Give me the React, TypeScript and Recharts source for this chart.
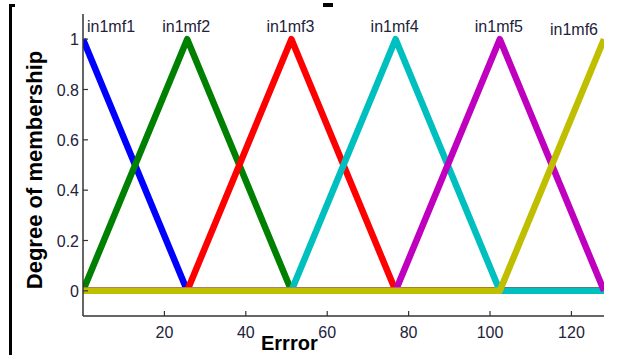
import { LineChart, Line, XAxis, YAxis, ReferenceDot } from "recharts";

// trimf breakpoints over the universe of discourse [0, 128]
const errorPoints = [0, 25.6, 51.2, 76.8, 102.4, 128];

const mfNames = ["in1mf1", "in1mf2", "in1mf3", "in1mf4", "in1mf5", "in1mf6"];

// membership degree of each mf at every breakpoint
const mf1 = [1, 0, 0, 0, 0, 0];
const mf2 = [0, 1, 0, 0, 0, 0];
const mf3 = [0, 0, 1, 0, 0, 0];
const mf4 = [0, 0, 0, 1, 0, 0];
const mf5 = [0, 0, 0, 0, 1, 0];
const mf6 = [0, 0, 0, 0, 0, 1];
const mfSeries = [mf1, mf2, mf3, mf4, mf5, mf6];

const mfPeaks = [0, 25.6, 51.2, 76.8, 102.4, 128];

const mfColors = ["#0000ff", "#008000", "#ff0000", "#00bfbf", "#bf00bf", "#bfbf00"];

const xTicks = [20, 40, 60, 80, 100, 120];
const yTicks = [0, 0.2, 0.4, 0.6, 0.8, 1];

const rows = errorPoints.map((x, i) => {
  const row: Record<string, number> = { x };
  mfSeries.forEach((s, k) => (row[mfNames[k]] = s[i]));
  return row;
});

const FONT = "'Liberation Sans', Arial, sans-serif";
const TEXT = "#22223a";
const AXIS = "#333";

const BottomTick = (props: any) => {
  const { x, y, payload } = props;
  return (
    <g>
      <line x1={x} y1={y} x2={x} y2={y - 5} stroke={AXIS} strokeWidth={1.2} />
      <text x={x} y={y + 22} textAnchor="middle" fontSize={16} fontFamily={FONT} fill={TEXT}>
        {payload.value}
      </text>
    </g>
  );
};

const LeftTick = (props: any) => {
  const { x, y, payload } = props;
  const v = payload.value;
  const label = v === 0 || v === 1 ? String(v) : v.toFixed(1);
  return (
    <g>
      <line x1={x} y1={y} x2={x + 5} y2={y} stroke={AXIS} strokeWidth={1.2} />
      <text x={x - 4} y={y + 6} textAnchor="end" fontSize={16} fontFamily={FONT} fill={TEXT}>
        {label}
      </text>
    </g>
  );
};

const EmptyTick = () => <g />;

const mfLabel = (i: number) => (p: any) => {
  const { x, y } = p.viewBox;
  const last = i === mfNames.length - 1;
  const anchor = i === 0 ? "start" : last ? "end" : "middle";
  const dx = i === 0 ? 4 : last ? -6 : -1;
  return (
    <text
      x={x + dx}
      y={y - (last ? 4 : 7)}
      textAnchor={anchor}
      fontSize={16}
      fontFamily={FONT}
      fill={TEXT}
    >
      {mfNames[i]}
    </text>
  );
};

export default function App() {
  return (
    <div style={{ position: "absolute", left: 0, top: 0, width: 630, height: 355, background: "#fff" }}>
      {/* figure frame edge and stray mark */}
      <div style={{ position: "absolute", left: 9, top: 4, width: 3, height: 351, background: "#000" }} />
      <div style={{ position: "absolute", left: 9, top: 4, width: 6, height: 3, background: "#000" }} />
      <div style={{ position: "absolute", left: 323, top: 3, width: 10, height: 4, background: "#000" }} />

      <LineChart
        width={630}
        height={355}
        data={rows}
        margin={{ top: 14, right: 26, bottom: 0, left: 0 }}
        style={{ position: "absolute", left: 0, top: 0 }}
      >
        <XAxis
          dataKey="x"
          type="number"
          domain={[0, 128]}
          ticks={xTicks}
          height={39}
          tickSize={0}
          tickMargin={0}
          tickLine={false}
          tick={<BottomTick />}
          axisLine={{ stroke: AXIS, strokeWidth: 1.5 }}
          allowDataOverflow
        />
        <XAxis
          xAxisId="top"
          dataKey="x"
          type="number"
          orientation="top"
          domain={[0, 128]}
          ticks={xTicks}
          height={0}
          mirror
          tickSize={5}
          tick={EmptyTick}
          tickLine={{ stroke: AXIS, strokeWidth: 1.2 }}
          axisLine={{ stroke: AXIS, strokeWidth: 1.5 }}
          allowDataOverflow
        />
        <YAxis
          type="number"
          domain={[-0.1, 1.1]}
          ticks={yTicks}
          width={83}
          tickSize={0}
          tickMargin={0}
          tickLine={false}
          tick={<LeftTick />}
          axisLine={{ stroke: AXIS, strokeWidth: 1.5 }}
          allowDataOverflow
        />
        <YAxis
          yAxisId="right"
          type="number"
          orientation="right"
          domain={[-0.1, 1.1]}
          ticks={yTicks}
          width={0}
          mirror
          tickSize={5}
          tick={EmptyTick}
          tickLine={{ stroke: AXIS, strokeWidth: 1.2 }}
          axisLine={{ stroke: AXIS, strokeWidth: 1.5 }}
          allowDataOverflow
        />
        {mfNames.map((name, i) => (
          <Line
            key={name}
            dataKey={name}
            type="linear"
            stroke={mfColors[i]}
            strokeWidth={6.5}
            strokeLinejoin="round"
            dot={false}
            activeDot={false}
            isAnimationActive={false}
          />
        ))}
        {mfPeaks.map((peak, i) => (
          <ReferenceDot
            key={mfNames[i]}
            x={peak}
            y={1}
            r={0}
            stroke="none"
            fill="none"
            label={{ content: mfLabel(i) }}
          />
        ))}
      </LineChart>

      <div
        style={{
          position: "absolute",
          left: 35,
          top: 170,
          transform: "translate(-50%, -50%) rotate(-90deg)",
          whiteSpace: "nowrap",
          fontFamily: FONT,
          fontWeight: "bold",
          fontSize: 22,
          color: "#000",
        }}
      >
        Degree of membership
      </div>
      <div
        style={{
          position: "absolute",
          left: 261,
          top: 332,
          whiteSpace: "nowrap",
          fontFamily: FONT,
          fontWeight: "bold",
          fontSize: 20,
          lineHeight: "22px",
          color: "#000",
        }}
      >
        Errror
      </div>
    </div>
  );
}
